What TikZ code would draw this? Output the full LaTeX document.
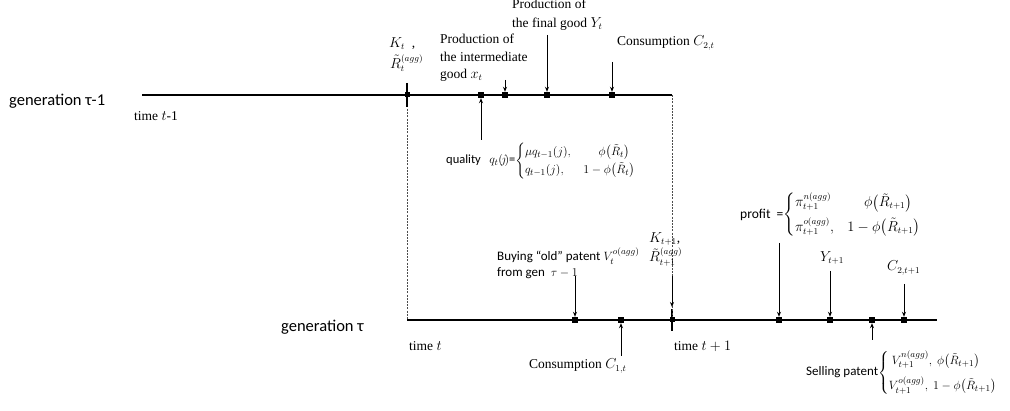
\documentclass[tikz,border=0pt]{standalone}
\usepackage{amsmath}
\usepackage{fontspec}
\setmainfont{Liberation Serif}
\newfontfamily\calib{Carlito}
\usetikzlibrary{arrows.meta}
\tikzset{
  tline/.style={line width=2.4pt},
  mk/.style={rectangle, fill=black, minimum size=6pt, inner sep=0pt},
  arr/.style={-{Stealth[length=5pt,width=4pt]}, line width=0.9pt},
  dsh/.style={dashed, dash pattern=on 2pt off 1.2pt, line width=0.5pt, black!70},
  tick/.style={line width=1.6pt},
  sansbig/.style={font=\calib\fontsize{16.5}{19}\selectfont, inner sep=0pt},
  sans/.style={font=\calib\fontsize{13}{17}\selectfont, inner sep=0pt},
  ser/.style={font=\fontsize{13.5}{18}\selectfont, inner sep=0pt},
}
\begin{document}
\begin{tikzpicture}[x=1pt,y=-1pt]
\useasboundingbox (0,0) rectangle (1010,411);
% ---------- generation tau-1 ----------
\coordinate (A0) at (142,95);
\coordinate (A1) at (672,95);
\draw[tline] (A0) -- (A1);
\node[mk, minimum size=5pt] (tk1) at (407,95) {};
\draw[tick] (407,83) -- (407,107);
\node[mk] (m1) at (481,95) {};
\node[mk] (m2) at (505,95) {};
\node[mk] (m3) at (547,95) {};
\node[mk] (m4) at (612,95) {};

\node[sansbig, anchor=west] (g1) at (9,101) {generation τ-1};
\node[ser, anchor=west] (t1) at (134,116) {time $t$-1};
\node[ser, anchor=west] (kt1) at (389,44) {$K_t$\ \ ,};
\node[ser, anchor=west] (kt2) at (390,63) {$\tilde R_t^{(agg)}$};
\node[ser, anchor=north west, align=left, font=\fontsize{13.5}{17.5}\selectfont] (pi) at (440,34) {Production of\\the intermediate\\good $x_t$};
\node[ser, anchor=north west, align=left, font=\fontsize{13.5}{19}\selectfont] (pf) at (512,-1) {Production of\\the final good $Y_t$};
\node[ser, anchor=west] (c2) at (617,43) {Consumption $C_{2,t}$};
\node[sans, anchor=west, font=\calib\fontsize{12.5}{15}\selectfont] (q) at (446,161) {quality\ \ \ $q_t(\!j\!)$=$\begin{cases}\mu q_{t-1}(j), & \quad\ \phi\bigl(\tilde R_t\bigr)\\ q_{t-1}(j), & 1-\phi\bigl(\tilde R_t\bigr)\end{cases}$};

\coordinate (a2) at (505,80);
\coordinate (a3) at (547,35);
\coordinate (a4) at (612,62);
\coordinate (a1) at (481,140);
\draw[arr] (a2) -- (m2);
\draw[arr] (a3) -- (m3);
\draw[arr] (a4) -- (m4);
\draw[arr] (a1) -- (m1);

% ---------- generation tau ----------
\coordinate (B0) at (407,320);
\coordinate (B1) at (937,320);
\draw[tline] (B0) -- (B1);
\node[mk] (n1) at (575,320) {};
\node[mk] (n2) at (621,320) {};
\node[mk, minimum size=5pt] (tk2) at (672,320) {};
\draw[tick] (672,309) -- (672,331);
\node[mk] (n3) at (779,320) {};
\node[mk] (n4) at (830,320) {};
\node[mk] (n5) at (872,320) {};
\node[mk] (n6) at (904,320) {};

\draw[dsh] (407,109) -- (B0);
\draw[dsh] (A1) -- (tk2);

\node[sansbig, anchor=west] (g2) at (281,327) {generation τ};
\node[ser, anchor=west] (t2) at (409,346) {time $t$};
\node[ser, anchor=west] (t3) at (674,346) {time $t+1$};
\node[sans, anchor=west] (buy1) at (497,256) {Buying “old” patent $V_t^{o(agg)}$};
\node[sans, anchor=west] (buy2) at (497,273) {from gen\ \ $\tau-1$};
\node[ser, anchor=west] (k21) at (649,239) {$K_{t+1}$,};
\node[ser, anchor=west] (k22) at (649,257) {$\tilde R_{t+1}^{(agg)}$};
\node[ser, anchor=west] (c1) at (529,366) {Consumption $C_{1,t}$};
\node[sans, anchor=west, font=\calib\fontsize{13.5}{16}\selectfont] (pr) at (740,215) {profit\ \ =$\begin{cases}\pi_{t+1}^{n(agg)} & \quad\ \phi\bigl(\tilde R_{t+1}\bigr)\\[5pt] \pi_{t+1}^{o(agg)}, & 1-\phi\bigl(\tilde R_{t+1}\bigr)\end{cases}$};
\node[ser, anchor=center] (y1) at (832,258) {$Y_{t+1}$};
\node[ser, anchor=west] (c3) at (887,268) {$C_{2,t+1}$};
\node[sans, anchor=west, font=\calib\fontsize{13}{16}\selectfont] (sp) at (806,373) {Selling patent$\begin{cases}\ V_{t+1}^{n(agg)},\ \phi\bigl(\tilde R_{t+1}\bigr)\\[6pt] V_{t+1}^{o(agg)},\ 1-\phi\bigl(\tilde R_{t+1}\bigr)\end{cases}$};

\coordinate (b1) at (575,276);
\coordinate (b2) at (621,356);
\coordinate (bk) at (672,276);
\coordinate (b3) at (779,243);
\coordinate (b4) at (830,271);
\coordinate (b6) at (904,284);
\coordinate (b5) at (872,340);
\draw[arr] (b1) -- (n1);
\draw[arr] (b2) -- (n2);
\draw[arr] (bk) -- (672,307);
\draw[arr] (b3) -- (n3);
\draw[arr] (b4) -- (n4);
\draw[arr] (b6) -- (n6);
\draw[arr] (b5) -- (n5);
\end{tikzpicture}
\end{document}
